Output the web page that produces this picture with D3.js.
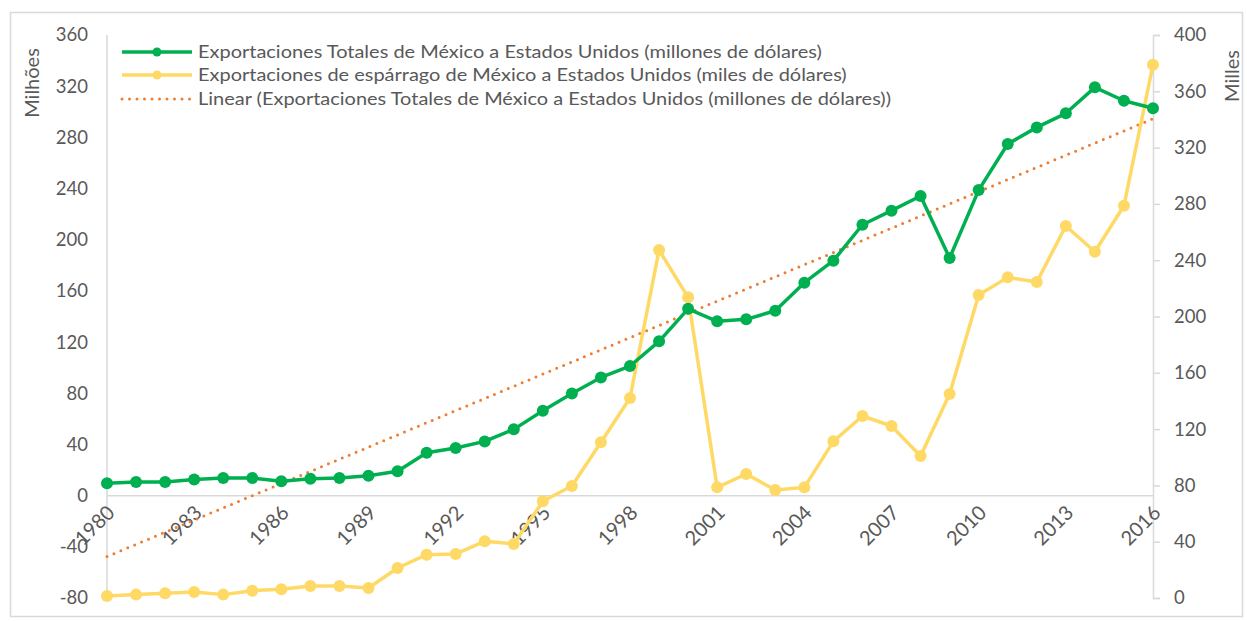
<!DOCTYPE html>
<html><head>
<meta charset="utf-8">
<script src="https://cdnjs.cloudflare.com/ajax/libs/d3/7.8.5/d3.min.js"></script>
<style>
  body { margin: 0; background: #fff; }
  text { font-family: Lato, "Open Sans", sans-serif; fill: #595959; }
</style>
</head>
<body>
<script>
// values
var years = d3.range(1980, 2017);
var totalExports = [9.6, 10.6, 10.6, 12.7, 13.8, 13.8, 11.2, 13.2, 13.8, 15.6, 19.0, 33.5, 37.2, 42.4, 51.8,
  66.4, 79.8, 92.4, 101.3, 120.6, 146.0, 136.2, 137.8, 144.5, 166.4, 183.6, 211.7, 222.7, 234.2, 185.7,
  238.8, 274.8, 287.8, 298.8, 319.1, 308.6, 302.7];
var asparagusExports = [1.4, 2.4, 3.3, 4.3, 2.4, 5.2, 6.2, 8.5, 8.5, 7.1, 21.3, 30.8, 31.3, 40.3, 38.4,
  68.7, 79.6, 110.6, 142.1, 247.2, 213.6, 78.6, 88.1, 76.7, 78.6, 111.3, 129.3, 122.2, 100.9, 144.9,
  215.3, 227.8, 224.5, 264.3, 246.0, 278.7, 378.9];
var leftTicks = [-80, -40, 0, 40, 80, 120, 160, 200, 240, 280, 320, 360];
var rightTicks = [0, 40, 80, 120, 160, 200, 240, 280, 320, 360, 400];
var xTickYears = d3.range(1980, 2017, 3);
var seriesNames = [
  "Exportaciones Totales de México a Estados Unidos (millones de dólares)",
  "Exportaciones de espárrago de México a Estados Unidos (miles de dólares)",
  "Linear (Exportaciones Totales de México a Estados Unidos (millones de dólares))"
];

var W = 1247, H = 621;
var green = "#00b050", yellow = "#ffd966", orange = "#ed7d31", grid = "#d9d9d9";

var svg = d3.select("body").append("svg").attr("width", W).attr("height", H);

svg.append("rect").attr("x", 10.5).attr("y", 12.5).attr("width", 1232).attr("height", 604)
  .attr("fill", "none").attr("stroke", grid).attr("stroke-width", 1.5);

var x = d3.scaleLinear().domain([1980, 2016]).range([107, 1153]);
var yL = d3.scaleLinear().domain([-80, 360]).range([598, 35]);
var yR = d3.scaleLinear().domain([0, 400]).range([598, 35]);

// axis lines
svg.append("line").attr("x1", x(1980)).attr("x2", x(1980)).attr("y1", 35).attr("y2", 598)
  .attr("stroke", grid).attr("stroke-width", 1.5);
svg.append("line").attr("x1", x(1980)).attr("x2", x(2016)).attr("y1", yL(0)).attr("y2", yL(0))
  .attr("stroke", grid).attr("stroke-width", 1.5);

// left axis labels
svg.selectAll(".lt").data(leftTicks).enter().append("text")
  .attr("x", 88).attr("y", function(d) { return yL(d); }).attr("dy", "0.35em")
  .attr("text-anchor", "end").style("font-size", "18.5px").text(function(d) { return d; });

// right axis
var rAxis = d3.axisRight(yR).tickValues(rightTicks).tickSize(7).tickPadding(14);
var rg = svg.append("g").attr("transform", "translate(" + x(2016) + ",0)").call(rAxis);
rg.select(".domain").attr("stroke", grid).attr("stroke-width", 1.5);
rg.selectAll(".tick line").attr("stroke", grid).attr("stroke-width", 1.5);
rg.selectAll(".tick text").style("font-size", "18.5px").style("font-family", "Lato, sans-serif").attr("fill", "#595959");

// axis titles
svg.append("text").attr("transform", "translate(39,83) rotate(-90)").attr("text-anchor", "middle")
  .style("font-size", "20px").text("Milhões");
svg.append("text").attr("transform", "translate(1239,76) rotate(-90)").attr("text-anchor", "middle")
  .style("font-size", "20px").text("Milles");

// x labels
svg.selectAll(".xl").data(xTickYears).enter().append("text")
  .attr("transform", function(d) { return "translate(" + (x(d) + 4) + "," + 509 + ") rotate(-45)"; })
  .attr("text-anchor", "end").attr("dy", "0.35em").style("font-size", "20px")
  .text(function(d) { return d; });

// trendline (least squares on total exports)
var n = years.length, idx = d3.range(1, n + 1);
var mx = d3.mean(idx), my = d3.mean(totalExports);
var slope = d3.sum(idx, function(t, i) { return (t - mx) * (totalExports[i] - my); }) /
  d3.sum(idx, function(t) { return (t - mx) * (t - mx); });
var icpt = my - slope * mx;
svg.append("line")
  .attr("x1", x(years[0])).attr("y1", yL(icpt + slope * 1))
  .attr("x2", x(years[n - 1])).attr("y2", yL(icpt + slope * n))
  .attr("stroke", orange).attr("stroke-width", 3).attr("stroke-dasharray", "0,7.5")
  .attr("stroke-linecap", "round");

function drawSeries(vals, yScale, color) {
  var line = d3.line().x(function(d, i) { return x(years[i]); }).y(function(d) { return yScale(d); });
  svg.append("path").datum(vals).attr("d", line).attr("fill", "none")
    .attr("stroke", color).attr("stroke-width", 3.5).attr("stroke-linejoin", "round");
  svg.append("g").selectAll("circle").data(vals).enter().append("circle")
    .attr("cx", function(d, i) { return x(years[i]); })
    .attr("cy", function(d) { return yScale(d); })
    .attr("r", 6).attr("fill", color);
}
drawSeries(asparagusExports, yR, yellow);
drawSeries(totalExports, yL, green);

// legend
var legY = [52, 75, 99];
var legColors = [green, yellow, orange];
seriesNames.forEach(function(name, i) {
  var g = svg.append("g");
  var ln = g.append("line").attr("x1", 122).attr("x2", 192).attr("y1", legY[i]).attr("y2", legY[i])
    .attr("stroke", legColors[i]).attr("stroke-width", 3.5);
  if (i < 2) {
    g.append("circle").attr("cx", 157).attr("cy", legY[i]).attr("r", 4.5).attr("fill", legColors[i]);
  } else {
    ln.attr("stroke-width", 3).attr("stroke-dasharray", "0,7.5").attr("stroke-linecap", "round");
  }
  // reference font is a touch wider than Lato, stretch it a bit
  g.append("text").attr("transform", "translate(198," + legY[i] + ") scale(1.11,1)")
    .attr("dy", "0.35em").style("font-size", "18px").text(name);
});
</script>
</body></html>
